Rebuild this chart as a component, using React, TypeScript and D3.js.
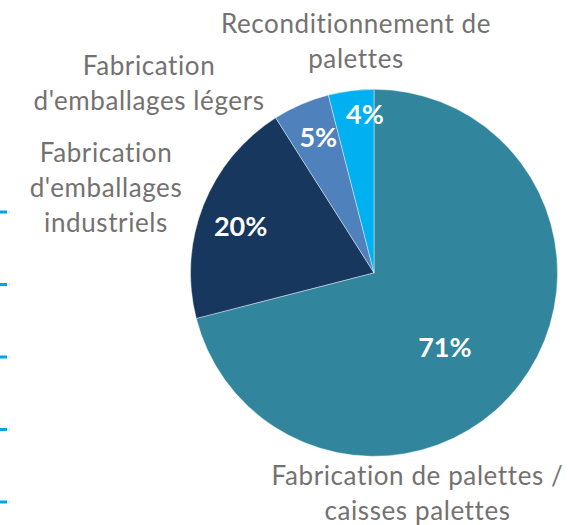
import React from 'react';
import * as d3 from 'd3';

// slices, clockwise from 12 o'clock
const categories = [
  'Fabrication de palettes / caisses palettes',
  "Fabrication d'emballages industriels",
  "Fabrication d'emballages légers",
  'Reconditionnement de palettes',
];
const shares = [71, 20, 5, 4];
const colors = ['#31859C', '#17375E', '#4F81BD', '#00B0F0'];

// category labels, split the way they wrap in the picture
const labelLines = [
  ['Fabrication de palettes /', 'caisses palettes'],
  ['Fabrication', "d'emballages", 'industriels'],
  ['Fabrication', "d'emballages légers"],
  ['Reconditionnement de', 'palettes'],
];

// blue tick stubs cut off at the left edge (remains of a neighbouring chart)
const edgeTicks = [0, 1, 2, 3, 4];

const W = 579;
const H = 525;
const cx = 374;
const cy = 272.8;
const radius = 183.5;

// where the percentage sits inside each slice: fraction of radius, degrees off the mid angle
const pctPlace = [
  { r: 0.56, shift: 8.6 },
  { r: 0.77, shift: -2.3 },
  { r: 0.8, shift: 1.1 },
  { r: 0.865, shift: 3.9 },
];
// outside labels: centre x, first baseline, relative to the pie centre
const labelPlace = [
  { dx: 43.5, dy: 212 },
  { dx: -268, dy: -111 },
  { dx: -225, dy: -198 },
  { dx: -18, dy: -240 },
];
const lineGap = 35;

export default function App() {
  const data = categories.map((c, i) => ({ name: c, value: shares[i], i }));
  const pie = d3.pie<any>().sort(null).value(d => d.value).startAngle(0).endAngle(2 * Math.PI);
  const arcs = pie(data);
  const arc = d3.arc<any>().innerRadius(0).outerRadius(radius);

  const tickY = d3.scaleLinear().domain([0, 4]).range([210.5, 500.5]);

  return (
    <svg width={W} height={H} style={{ position: 'absolute', left: 0, top: 0, background: '#fff' }}>
      {edgeTicks.map(t => (
        <g key={t}>
          <rect x={0} y={tickY(t)} width={7} height={3} fill="#00A6E6" />
          <rect x={9} y={tickY(t)} width={1} height={3} fill="#CDEBF8" />
        </g>
      ))}
      <g transform={`translate(${cx},${cy})`}>
        {arcs.map(a => (
          <path key={a.data.i} d={arc(a) as string} fill={colors[a.data.i]}
            stroke="#ffffff" strokeOpacity={0.55} strokeWidth={0.75} />
        ))}
        {arcs.map(a => {
          const p = pctPlace[a.data.i];
          const ang = (a.startAngle + a.endAngle) / 2 + (p.shift * Math.PI) / 180;
          const x = Math.sin(ang) * radius * p.r;
          const y = -Math.cos(ang) * radius * p.r;
          return (
            <text key={'p' + a.data.i} x={x} y={y + 10} textAnchor="middle"
              fontFamily="Lato, sans-serif" fontWeight={700} fontSize={27} fill="#ffffff"
              style={{ fontVariantLigatures: 'none' }}>
              {a.data.value}%
            </text>
          );
        })}
        {labelLines.map((lines, i) => (
          <text key={'l' + i} textAnchor="middle" fontFamily="Lato, sans-serif"
            fontSize={26} letterSpacing={0.6} fill="#757171"
            style={{ fontVariantLigatures: 'none' }}>
            {lines.map((ln, j) => (
              <tspan key={j} x={labelPlace[i].dx} y={labelPlace[i].dy + j * lineGap}>{ln}</tspan>
            ))}
          </text>
        ))}
      </g>
    </svg>
  );
}
